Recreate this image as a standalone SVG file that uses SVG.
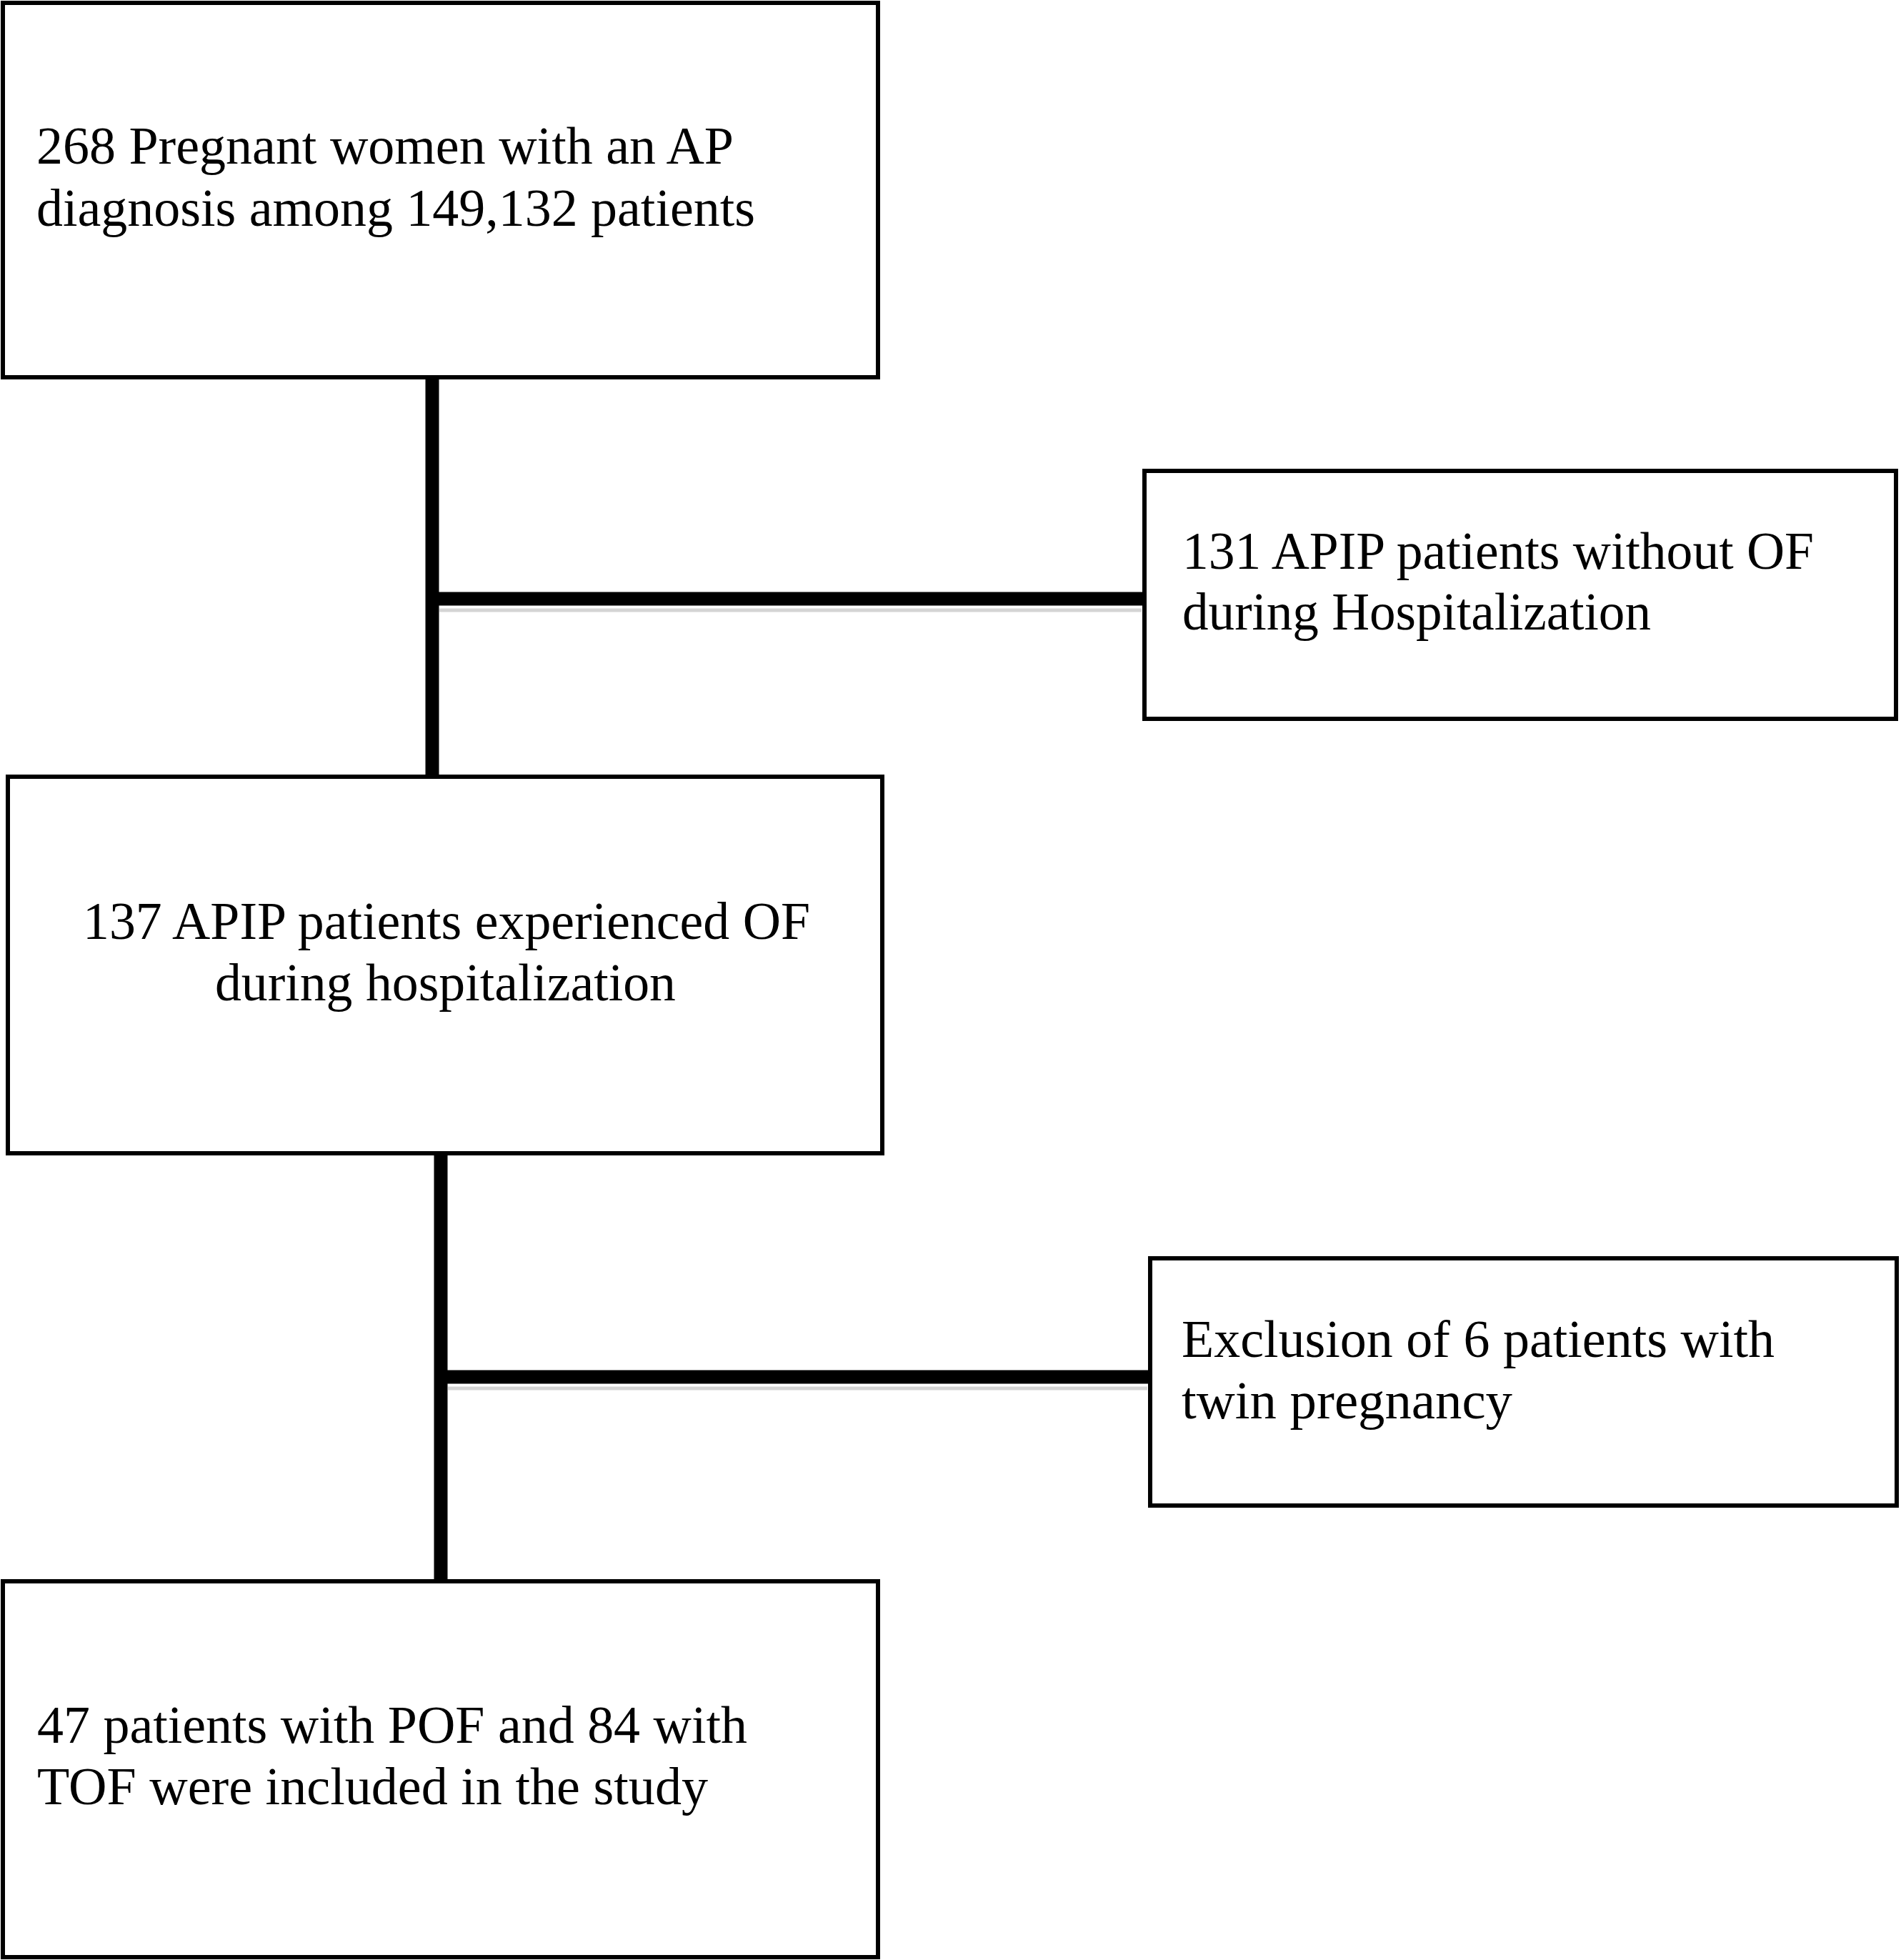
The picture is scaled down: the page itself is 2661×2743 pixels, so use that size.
<svg xmlns="http://www.w3.org/2000/svg" width="2661" height="2743" viewBox="0 0 2661 2743">
  <style>
    .box { fill: #ffffff; stroke: #000000; stroke-width: 6; }
    .conn { stroke: #000000; stroke-width: 19; fill: none; stroke-linecap: butt; }
    .shadow { stroke: #d4d4d4; stroke-width: 5; fill: none; }
    .lbl { font-family: "Liberation Serif", "Times New Roman", serif; font-size: 73px; fill: #000000; }
  </style>
  <rect x="0" y="0" width="2661" height="2743" fill="#ffffff"/>
  <g id="connectors">
    <line class="shadow" x1="615" y1="854" x2="1598" y2="854"/>
    <line class="shadow" x1="627" y1="1943" x2="1606" y2="1943"/>
    <line class="conn" x1="605" y1="531" x2="605" y2="1087"/>
    <line class="conn" x1="596" y1="838" x2="1602" y2="838"/>
    <line class="conn" x1="617" y1="1617" x2="617" y2="2213"/>
    <line class="conn" x1="608" y1="1927" x2="1610" y2="1927"/>
  </g>
  <g id="node-total">
    <rect class="box" x="4" y="4" width="1225" height="524"/>
    <text class="lbl" x="51" y="229" textLength="976" lengthAdjust="spacingAndGlyphs">268 Pregnant women with an AP</text>
    <text class="lbl" x="51" y="316" textLength="1006" lengthAdjust="spacingAndGlyphs">diagnosis among 149,132 patients</text>
  </g>
  <g id="node-without-of">
    <rect class="box" x="1602" y="659" width="1052" height="347"/>
    <text class="lbl" x="1655" y="796" textLength="884" lengthAdjust="spacingAndGlyphs">131 APIP patients without OF</text>
    <text class="lbl" x="1655" y="881" textLength="656" lengthAdjust="spacingAndGlyphs">during Hospitalization</text>
  </g>
  <g id="node-with-of">
    <rect class="box" x="11" y="1087" width="1224" height="527"/>
    <text class="lbl" x="116" y="1314" textLength="1018" lengthAdjust="spacingAndGlyphs">137 APIP patients experienced OF</text>
    <text class="lbl" x="301" y="1400" textLength="645" lengthAdjust="spacingAndGlyphs">during hospitalization</text>
  </g>
  <g id="node-exclusion">
    <rect class="box" x="1610" y="1761" width="1045" height="346"/>
    <text class="lbl" x="1654" y="1899" textLength="830" lengthAdjust="spacingAndGlyphs">Exclusion of 6 patients with</text>
    <text class="lbl" x="1654" y="1985" textLength="463" lengthAdjust="spacingAndGlyphs">twin pregnancy</text>
  </g>
  <g id="node-included">
    <rect class="box" x="4" y="2213" width="1225" height="526"/>
    <text class="lbl" x="52" y="2439" textLength="994" lengthAdjust="spacingAndGlyphs">47 patients with POF and 84 with</text>
    <text class="lbl" x="52" y="2525" textLength="939" lengthAdjust="spacingAndGlyphs">TOF were included in the study</text>
  </g>
</svg>
